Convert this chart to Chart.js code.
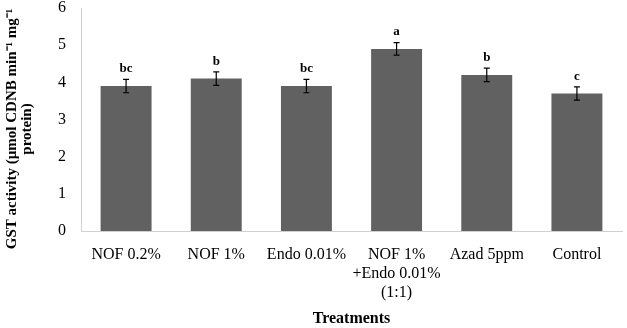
<!DOCTYPE html>
<html>
<head>
<meta charset="utf-8">
<script src="https://cdn.jsdelivr.net/npm/chart.js@4.4.0/dist/chart.umd.min.js"></script>
<style>
  body { margin: 0; background: #fff; }
  #wrap { width: 627px; height: 328px; }
</style>
</head>
<body>
<div id="wrap"><canvas id="gstChart" width="627" height="328"></canvas></div>
<script>
const treatments = ["NOF 0.2%", "NOF 1%", "Endo 0.01%", ["NOF 1%", "+Endo 0.01%", "(1:1)"], "Azad 5ppm", "Control"];
const gstActivity = [3.9, 4.1, 3.9, 4.9, 4.2, 3.7];
const gstError = [0.18, 0.18, 0.18, 0.17, 0.18, 0.18];
const sigLetters = ["bc", "b", "bc", "a", "b", "c"];
const yTicks = [0, 1, 2, 3, 4, 5, 6];
const yTitle = ["GST activity (µmol CDNB min⁻¹ mg⁻¹", "protein)"];

const serif = "'Liberation Serif', 'Times New Roman', serif";

// error bars + letters drawn over the bars, and the two-line y title
const errorBarPlugin = {
  id: "errorBars",
  afterDatasetsDraw(chart) {
    const ctx = chart.ctx;
    const y = chart.scales.y;
    const meta = chart.getDatasetMeta(0);
    ctx.save();
    meta.data.forEach((bar, i) => {
      const x = bar.x;
      const top = y.getPixelForValue(gstActivity[i] + gstError[i]);
      const bot = y.getPixelForValue(gstActivity[i] - gstError[i]);
      ctx.strokeStyle = "#000";
      ctx.lineWidth = 1.2;
      ctx.beginPath();
      ctx.moveTo(x, top); ctx.lineTo(x, bot);
      ctx.moveTo(x - 3, top); ctx.lineTo(x + 3, top);
      ctx.moveTo(x - 3, bot); ctx.lineTo(x + 3, bot);
      ctx.stroke();
      ctx.fillStyle = "#000";
      ctx.font = "bold 13px " + serif;
      ctx.textAlign = "center";
      ctx.textBaseline = "bottom";
      ctx.fillText(sigLetters[i], x, top - 4);
    });

    // y axis title, rotated
    ctx.translate(0, 129);
    ctx.rotate(-Math.PI / 2);
    ctx.font = "bold 15px " + serif;
    ctx.textBaseline = "middle";
    ctx.fillText(yTitle[0], 0, 12);
    ctx.fillText(yTitle[1], 0, 27);
    ctx.restore();
  }
};

new Chart(document.getElementById("gstChart"), {
  type: "bar",
  data: {
    labels: treatments,
    datasets: [{
      data: gstActivity,
      backgroundColor: "#616161",
      borderWidth: 0,
      categoryPercentage: 1.0,
      barPercentage: 0.565
    }]
  },
  options: {
    responsive: false,
    animation: false,
    layout: { padding: { top: 0, right: 5, left: 0, bottom: 0 } },
    plugins: { legend: { display: false }, tooltip: { enabled: false } },
    scales: {
      x: {
        afterFit: (s) => { s.height = 97; },
        grid: { display: false, drawTicks: false },
        border: { color: "#d0d0d0", width: 1 },
        ticks: { color: "#000", font: { family: serif, size: 16, lineHeight: 1.16 }, padding: 15, maxRotation: 0, autoSkip: false },
        title: { display: true, text: "Treatments", color: "#000", font: { family: serif, size: 16, weight: "bold" }, padding: { top: 2, bottom: 0 } }
      },
      y: {
        min: 0, max: 6,
        afterBuildTicks: (s) => { s.ticks = yTicks.map(v => ({ value: v })); },
        afterFit: (s) => { s.width = 81; s.paddingTop = 8; },
        grid: { display: false, drawTicks: false },
        border: { color: "#d0d0d0", width: 1 },
        ticks: { color: "#000", font: { family: serif, size: 16 }, padding: 15 }
      }
    }
  },
  plugins: [errorBarPlugin]
});
</script>
</body>
</html>
